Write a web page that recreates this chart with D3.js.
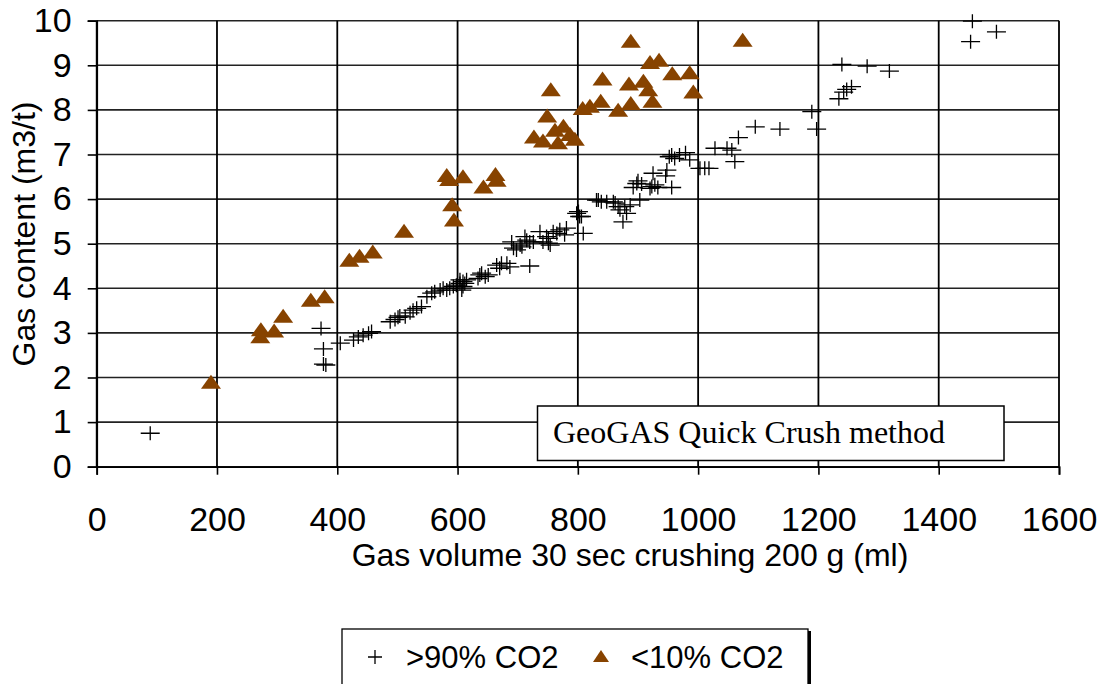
<!DOCTYPE html>
<html>
<head>
<meta charset="utf-8">
<script src="https://cdn.jsdelivr.net/npm/d3@7"></script>
<style>
    body { margin: 0; background: #fff; }
    .sans { font-family: Arial, "Liberation Sans", sans-serif; fill: #000; }
    .serif { font-family: "Times New Roman", "Liberation Serif", serif; fill: #000; }
</style>
</head>
<body>
<div id="chart-area"></div>
<script>

// series names (legend)
const seriesNames = [">90% CO2", "<10% CO2"];

// >90% CO2 samples: [gas volume 30 sec crushing (ml), gas content (m3/t)]
const highCO2Points = [
    [89, 0.75],
    [373, 3.10], [377, 2.64], [377, 2.30], [381, 2.28],
    [405, 2.77], [427, 2.84], [435, 2.91], [443, 2.95], [452, 2.99], [457, 3.03],
    [488, 3.25], [496, 3.30], [501, 3.35], [504, 3.38], [513, 3.36], [521, 3.45], [526, 3.51], [532, 3.55], [540, 3.59],
    [549, 3.81], [557, 3.89], [562, 3.92], [571, 3.96], [576, 4.00], [582, 3.96], [587, 4.00], [593, 4.04], [598, 4.07],
    [604, 4.11], [609, 4.15], [615, 4.19], [604, 4.19], [609, 4.04], [607, 3.96], [612, 4.11],
    [634, 4.22], [640, 4.34], [646, 4.26], [651, 4.30], [637, 4.30],
    [665, 4.52], [670, 4.45], [673, 4.56], [682, 4.56], [687, 4.48], [720, 4.50],
    [690, 5.04], [693, 4.90], [698, 4.86], [704, 4.97], [707, 4.93], [712, 5.16], [720, 5.04], [726, 5.04], [715, 5.08], [737, 5.27],
    [742, 5.04], [748, 5.16], [751, 5.01], [751, 5.12], [754, 4.97], [759, 5.27], [765, 5.23], [770, 5.31], [778, 5.20], [781, 5.35],
    [798, 5.68], [801, 5.72], [803, 5.61], [806, 5.61], [809, 5.23],
    [831, 5.98], [834, 5.98], [839, 5.94], [848, 5.94], [859, 5.94], [862, 5.91], [867, 5.83], [870, 5.76], [878, 5.83],
    [881, 5.68], [875, 5.49], [887, 5.87], [903, 5.98],
    [892, 6.26], [898, 6.35], [900, 6.41], [906, 6.34], [920, 6.24], [923, 6.28], [928, 6.32], [933, 6.26], [956, 6.26],
    [925, 6.58], [946, 6.52], [948, 6.65],
    [952, 6.95], [956, 6.99], [961, 6.91], [969, 6.99], [979, 7.04], [986, 6.88],
    [1003, 6.69], [1011, 6.69], [1018, 6.69],
    [1028, 7.14], [1048, 7.14], [1056, 7.10], [1061, 6.84], [1067, 7.38],
    [1095, 7.62], [1136, 7.57], [1189, 7.96], [1197, 7.57],
    [1234, 8.25], [1242, 8.40], [1247, 8.46], [1255, 8.52], [1239, 9.02], [1281, 8.98], [1318, 8.87],
    [1453, 9.53], [1456, 9.99], [1496, 9.75]
];

// <10% CO2 samples
const lowCO2Points = [
    [190, 1.88], [272, 2.90], [273, 3.06], [295, 3.03], [310, 3.36], [356, 3.72], [379, 3.80],
    [420, 4.62], [437, 4.71], [459, 4.80], [511, 5.27],
    [582, 6.52], [586, 6.43], [609, 6.49], [591, 5.86], [594, 5.52], [643, 6.26], [663, 6.54], [665, 6.41],
    [727, 7.38], [742, 7.29], [749, 7.85], [755, 8.44], [762, 7.53], [767, 7.25], [776, 7.62], [787, 7.44], [795, 7.33],
    [808, 8.02], [820, 8.07], [838, 8.18], [841, 8.68], [867, 7.98], [885, 8.57], [888, 8.13], [888, 9.53],
    [909, 8.63], [917, 8.44], [920, 9.05], [924, 8.18], [935, 9.10], [957, 8.80], [986, 8.82], [992, 8.39], [1074, 9.55]
];

// axis ticks
const xTicks = [0, 200, 400, 600, 800, 1000, 1200, 1400, 1600];
const yTicks = [0, 1, 2, 3, 4, 5, 6, 7, 8, 9, 10];

const xTitle = "Gas volume 30 sec crushing 200 g (ml)";
const yTitle = "Gas content (m3/t)";
const boxText = "GeoGAS Quick Crush method";


class ScatterVis {

    constructor(_parentElement) {
        this.parentElement = _parentElement;
        this.initVis();
    }

    initVis() {
        let vis = this;

        vis.margin = { top: 20.7, right: 43, bottom: 217.3, left: 96.7 };
        vis.width = 1102 - vis.margin.left - vis.margin.right;
        vis.height = 684 - vis.margin.top - vis.margin.bottom;

        vis.root = d3.select("#" + vis.parentElement).append("svg")
            .attr("width", 1102)
            .attr("height", 684);

        vis.svg = vis.root.append("g")
            .attr("transform", "translate(" + vis.margin.left + "," + vis.margin.top + ")");

        // scales
        vis.x = d3.scaleLinear()
            .domain([0, 1600])
            .range([0, vis.width]);

        vis.y = d3.scaleLinear()
            .domain([0, 10])
            .range([vis.height, 0]);

        // grid lines
        vis.svg.append("g")
            .attr("class", "grid")
            .selectAll("line.h")
            .data(yTicks)
            .enter().append("line")
            .attr("x1", 0)
            .attr("x2", vis.width)
            .attr("y1", d => vis.y(d))
            .attr("y2", d => vis.y(d))
            .attr("stroke", "#222")
            .attr("stroke-width", 1.6);

        vis.svg.append("g")
            .attr("class", "grid")
            .selectAll("line.v")
            .data(xTicks)
            .enter().append("line")
            .attr("x1", d => vis.x(d))
            .attr("x2", d => vis.x(d))
            .attr("y1", 0)
            .attr("y2", vis.height)
            .attr("stroke", "#000")
            .attr("stroke-width", 1.8);

        // axes
        vis.xAxis = d3.axisBottom(vis.x)
            .tickValues(xTicks)
            .tickSize(8)
            .tickPadding(32)
            .tickFormat(d => d);

        vis.yAxis = d3.axisLeft(vis.y)
            .tickValues(yTicks)
            .tickSize(9)
            .tickPadding(16)
            .tickFormat(d => d);

        let xg = vis.svg.append("g")
            .attr("class", "x-axis")
            .attr("transform", "translate(0," + vis.height + ")")
            .call(vis.xAxis);

        let yg = vis.svg.append("g")
            .attr("class", "y-axis")
            .call(vis.yAxis);

        [xg, yg].forEach(g => {
            g.select(".domain").attr("stroke", "#000").attr("stroke-width", 1.8);
            g.selectAll(".tick line").attr("stroke", "#000").attr("stroke-width", 1.6);
            g.selectAll(".tick text")
                .attr("class", "sans")
                .style("font-size", "34px")
                .attr("fill", "#000");
        });

        // axis titles
        vis.root.append("text")
            .attr("class", "sans")
            .attr("x", 630)
            .attr("y", 566)
            .attr("text-anchor", "middle")
            .style("font-size", "32px")
            .text(xTitle);

        vis.root.append("text")
            .attr("class", "sans")
            .attr("transform", "translate(35,234) rotate(-90)")
            .attr("text-anchor", "middle")
            .style("font-size", "32px")
            .text(yTitle);

        // >90% CO2 crosses
        vis.svg.append("g")
            .selectAll("path.cross")
            .data(highCO2Points)
            .enter().append("path")
            .attr("class", "cross")
            .attr("transform", d => "translate(" + vis.x(d[0]) + "," + vis.y(d[1]) + ")")
            .attr("d", "M-9.5,0H9.5M0,-7V7")
            .attr("stroke", "#000")
            .attr("stroke-width", 1.3)
            .attr("fill", "none");

        // <10% CO2 triangles
        vis.svg.append("g")
            .selectAll("path.tri")
            .data(lowCO2Points)
            .enter().append("path")
            .attr("class", "tri")
            .attr("transform", d => "translate(" + vis.x(d[0]) + "," + vis.y(d[1]) + ")")
            .attr("d", "M0,-8L10,6L-10,6Z")
            .attr("fill", "#874300");

        // method label box
        let box = vis.root.append("g");
        box.append("rect")
            .attr("x", 537.5)
            .attr("y", 406)
            .attr("width", 466.5)
            .attr("height", 54.5)
            .attr("fill", "#fff")
            .attr("stroke", "#000")
            .attr("stroke-width", 1.5);
        box.append("text")
            .attr("class", "serif")
            .attr("x", 553)
            .attr("y", 443)
            .style("font-size", "32px")
            .text(boxText);

        // legend
        let legend = vis.root.append("g");
        legend.append("rect")
            .attr("x", 342)
            .attr("y", 629)
            .attr("width", 466)
            .attr("height", 70)
            .attr("fill", "#fff")
            .attr("stroke", "#000")
            .attr("stroke-width", 1.3);
        legend.append("line")
            .attr("x1", 809.5)
            .attr("x2", 809.5)
            .attr("y1", 631)
            .attr("y2", 684)
            .attr("stroke", "#000")
            .attr("stroke-width", 3);

        legend.append("path")
            .attr("transform", "translate(375,657)")
            .attr("d", "M-7,0H7M0,-7V7")
            .attr("stroke", "#000")
            .attr("stroke-width", 1.3);
        legend.append("text")
            .attr("class", "sans")
            .attr("x", 406)
            .attr("y", 668)
            .style("font-size", "31px")
            .text(seriesNames[0]);

        legend.append("path")
            .attr("transform", "translate(601,657)")
            .attr("d", "M0,-7L8,5L-8,5Z")
            .attr("fill", "#874300");
        legend.append("text")
            .attr("class", "sans")
            .attr("x", 631)
            .attr("y", 668)
            .style("font-size", "31px")
            .text(seriesNames[1]);
    }
}

new ScatterVis("chart-area");

</script>
</body>
</html>
